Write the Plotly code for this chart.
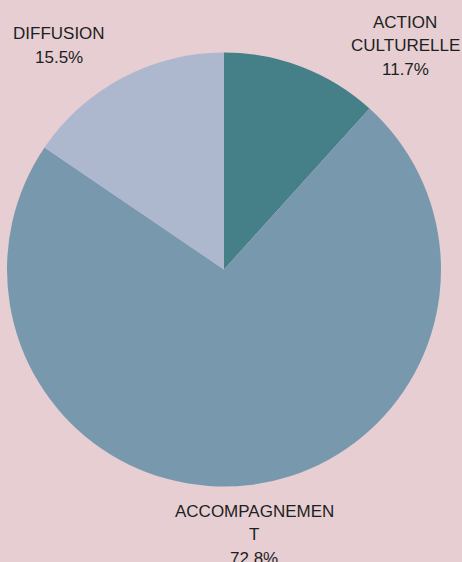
import plotly.graph_objects as go

# Data
categories = ["ACTION CULTURELLE", "ACCOMPAGNEMENT", "DIFFUSION"]
label_lines = [["ACTION", "CULTURELLE"], ["ACCOMPAGNEMEN", "T"], ["DIFFUSION"]]
values = [11.7, 72.8, 15.5]
colors = ["#457F88", "#7899AD", "#ADB8CF"]

W, H = 462, 562
ML, MR, MT, MB = 7, 21, 52, 75
PW, PH = W - ML - MR, H - MT - MB

# label first-line centres in pixels (style) and line spacing
label_px = [(405, 22), (254, 511), (59, 34)]
LINE_GAP = 23.5

def to_paper(px, py):
    return (px - ML) / PW, 1 - (py - MT) / PH

fig = go.Figure(go.Pie(
    labels=categories,
    values=values,
    marker=dict(colors=colors, line=dict(width=0)),
    sort=False,
    direction="clockwise",
    rotation=0,
    textinfo="none",
    hoverinfo="label+percent",
    showlegend=False,
))

annotations = []
total = sum(values)
for lines, v, (px, py) in zip(label_lines, values, label_px):
    all_lines = lines + [f"{v / total * 100:.1f}%"]
    for i, t in enumerate(all_lines):
        x, y = to_paper(px, py + i * LINE_GAP)
        annotations.append(dict(
            x=x, y=y, xref="paper", yref="paper",
            text=t,
            showarrow=False, xanchor="center", yanchor="middle",
            align="center",
            font=dict(family="Liberation Sans, Arial, sans-serif", size=17, color="#1E1E1E"),
        ))

fig.update_layout(
    width=W, height=H,
    margin=dict(l=ML, r=MR, t=MT, b=MB),
    paper_bgcolor="#E6CED3",
    plot_bgcolor="#E6CED3",
    annotations=annotations,
)

fig.write_html(
    "out.html",
    config={"displayModeBar": False},
    post_script="document.body.style.margin='0';document.body.style.padding='0';",
)
